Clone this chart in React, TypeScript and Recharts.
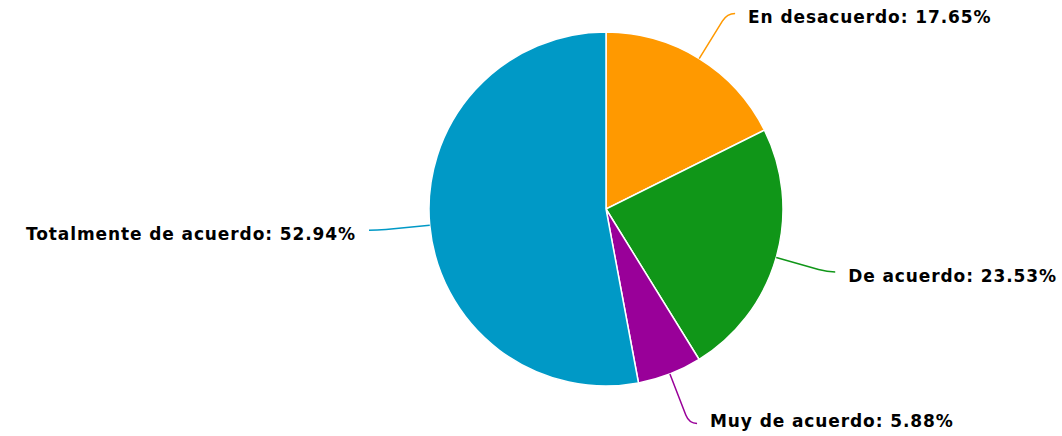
import React from 'react';
import { PieChart, Pie, Cell } from 'recharts';

const categories = ['En desacuerdo', 'De acuerdo', 'Muy de acuerdo', 'Totalmente de acuerdo'];
const shares = [17.65, 23.53, 5.88, 52.94];
const colors = ['#ff9900', '#109618', '#990099', '#0099c6'];

const data = categories.map((name, i) => ({ name, value: shares[i] }));

const RAD = Math.PI / 180;

const renderLabel = (props: any) => {
  const { cx, cy, midAngle, outerRadius, index, name, value } = props;
  const cos = Math.cos(-midAngle * RAD);
  const sin = Math.sin(-midAngle * RAD);
  const sx = cx + outerRadius * cos;
  const sy = cy + outerRadius * sin;
  const r2 = outerRadius + 53;
  const mx = cx + r2 * cos;
  const my = cy + r2 * sin;
  const dir = cos >= 0 ? 1 : -1;
  const ex = mx + dir * 8;
  const ey = my;
  const bx = cx + (outerRadius + 44) * cos;
  const by = cy + (outerRadius + 44) * sin;
  // keep the bottom label inside the frame
  const ty = Math.min(ey + 4, 421);
  return (
    <g key={`lbl-${index}`}>
      <path
        d={`M${sx},${sy} L${bx},${by} Q${mx},${my} ${ex},${ey}`}
        stroke={colors[index]}
        strokeWidth={1.5}
        fill="none"
      />
      <text
        x={ex + dir * 13}
        y={ty}
        textAnchor={dir > 0 ? 'start' : 'end'}
        dominantBaseline="central"
        fill="#000"
        fontFamily="DejaVu Sans"
        fontWeight="bold"
        fontSize={17}
        letterSpacing={0.9}
      >
        {`${name}: ${value.toFixed(2)}%`}
      </text>
    </g>
  );
};

export default function App() {
  return (
    <div style={{ position: 'absolute', left: 0, top: 0, width: 1062, height: 436, background: '#fff' }}>
      <PieChart width={1062} height={436} margin={{ top: 0, right: 0, bottom: 0, left: 0 }}>
        <Pie
          data={data}
          dataKey="value"
          nameKey="name"
          cx={606}
          cy={209}
          outerRadius={177}
          startAngle={90}
          endAngle={-270}
          stroke="#ffffff"
          strokeWidth={1.5}
          label={renderLabel}
          labelLine={false}
          isAnimationActive={false}
        >
          {data.map((d, i) => (
            <Cell key={d.name} fill={colors[i]} />
          ))}
        </Pie>
      </PieChart>
    </div>
  );
}
